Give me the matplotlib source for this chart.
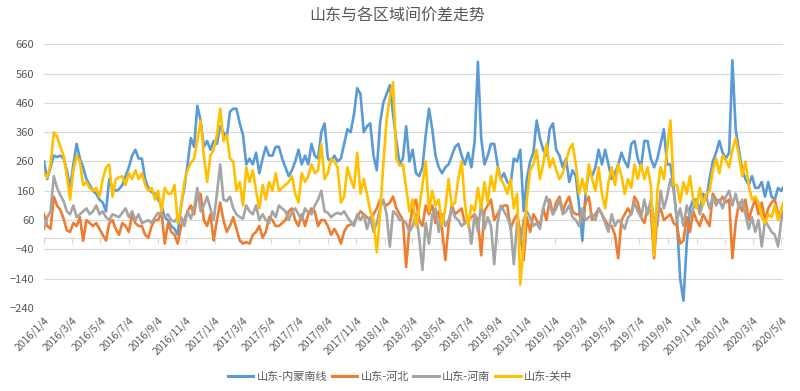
import matplotlib
matplotlib.use('Agg')
import matplotlib.pyplot as plt
import matplotlib.dates as mdates
import pandas as pd

plt.rcParams['font.family'] = ['Noto Sans CJK SC', 'DejaVu Sans']

# weekly readings, starting 2016/1/4
dates = pd.date_range('2016-01-04', periods=228, freq='7D')

neimeng = [260, 200, 240, 280, 275, 280, 270, 230, 170, 250, 320, 270, 240, 200, 180, 160, 150, 130, 120, 90,
           200, 170, 160, 165, 180, 210, 240, 280, 300, 270, 270, 200, 170, 155, 150, 130, 110,
           70, 60, 40, 30, 10, 110, 170, 250, 340, 310, 450, 400, 310, 330, 300, 330, 320, 380, 360, 340,
           430, 440, 440, 390, 350, 250, 270, 250, 290, 220, 270, 310, 280, 280, 310, 310, 270, 240, 210,
           230, 260, 300, 250, 280, 250, 320, 280, 270, 360,
           390, 270, 260, 280, 260, 270, 320, 370, 360, 420, 510, 490, 360, 380, 390, 280, 230, 390, 460,
           490, 520, 420, 330, 250, 270, 380, 260, 300, 220, 210, 240, 350, 440, 370, 280, 240, 220, 240,
           250, 280, 310, 320, 280, 250, 290, 240, 330, 600, 340,
           250, 280, 320, 320, 250, 200, 220, 190, 180, 270, 260, 300, 90, 200, 260, 290, 400, 340, 300,
           280, 370, 390, 300, 280, 240, 270, 190, 230, 210, 110, -10, 150, 230, 210, 240, 300, 250, 300,
           250, 200, 220, 250, 290, 260, 240, 320, 330,
           270, 240, 330, 330, 270, 240, 270, 320, 370, 250, 250, 170, 60, -140, -215, -20, 100, 130, 130,
           90, 150, 130, 200, 260, 290, 330, 290, 270, 290, 605, 370, 300, 230, 200, 180, 210, 170, 170,
           190, 140, 190, 140, 130, 170, 160, 180]

hebei = [80, 40, 30, 140, 110, 95, 65, 25, 20, 50, 40, 70, -10, 60, 50, 40, 50, 30, 10, -10,
         50, 60, 30, 10, 50, 40, 20, 80, 50, 40, 40, 10, 0, 40, 60, 60, 90,
         -20, 50, 20, 10, -20, 40, 60, 90, 110, 80, 150, 150, 60, 40, 80, -10, 60, 120, 60, 20,
         40, 70, 30, -10, -20, -15, -20, 10, 20, 40, 0, 20, 70, 60, 40, 40, 50, 60, 90,
         100, 60, 40, 80, 40, 80, 100, 90, 40, 60,
         60, 40, 10, 30, 10, -20, 20, 40, 45, 50, 70, 90, 80, 70, 60, 80, 100, 130, 120,
         110, 120, 140, 100, 80, 60, -100, 40, 100, 130, 60, 40, 110, 80, 110, 50, 90, 30, -76,
         40, 110, 80, 90, 100, 50, 60, 70, 80, 60, -60,
         90, 110, 130, 60, 80, 100, 110, 110, 30, 60, 80, 20, -76, 70, 20, 80, 60, 40, 100,
         60, 130, 80, 120, 140, 90, 120, 140, 90, 80, 80, 60, 120, 140, 60, 80, 100, 80, 60,
         40, 40, 10, -70, 60, 80, 100, 80, 140,
         120, 70, 50, 100, 90, -70, 80, 100, 60, 70, 80, 50, 40, -20, -10, 70, 20, 90, 60,
         40, 80, 60, 40, 150, 130, 120, 140, 120, 130, -70, 50, 120, 90, 130, 60, 100, 130, 80,
         120, 60, 100, 120, 130, 80, 70, 100]

henan = [30, 70, 90, 210, 170, 145, 125, 90, 80, 110, 70, 80, 90, 100, 80, 90, 110, 80, 90, 70,
         60, 80, 75, 70, 85, 100, 70, 90, 60, 80, 50, 55, 60, 50, 70, 85, 80,
         70, 80, 60, 55, 70, 70, 40, 90, 65, 100, 170, 90, 110, 140, 100, 60, 150, 250, 130, 125,
         140, 100, 80, 70, 65, 110, 90, 80, 110, 60, 80, 60, 50, 90, 70, 110, 100, 90, 60,
         90, 100, 80, 60, 100, 85, 80, 110, 130, 160,
         90, 85, 70, 80, 85, 80, 90, 70, 55, 40, 80, 60, 80, 30, 70, 20, 50, 100, 130,
         80, -30, 90, 80, 60, 60, 50, 20, 40, 80, 0, -110, 50, -20, 80, 100, 20, 80, 40,
         60, 100, 70, 60, 40, 50, 60, -20, 80, 20, 120,
         30, 70, 40, -90, 50, 110, 90, 70, 40, -90, 50, -20, 60, 90, 70, 40, 50, 30, 100,
         140, 110, 80, 100, 130, 80, 90, 110, 70, 60, 40, 100, 60, 70, 80, 60, 100, 80, 50,
         20, 80, 40, 60, 50, 30, 70, 80, 120,
         90, 70, 130, 80, 130, 60, 40, 160, 100, 140, 200, 160, 60, 100, 40, 110, 70, 100, 130,
         80, 120, 140, 100, 140, 110, 130, 100, 140, 160, 110, 150, 100, 130, 80, 30, 70, 20,
         60, -30, 60, 40, 20, 10, -30, 60, 90]

guanzhong = [220, 205, 250, 360, 345, 310, 280, 210, 130, 230, 280, 260, 180, 190, 170, 160, 170, 140, 200, 240,
             250, 140, 200, 205, 210, 180, 220, 200, 230, 200, 220, 180, 160, 170, 130, 160, 90,
             170, 150, 150, 180, 50, 100, 190, 230, 255, 270, 330, 400, 280, 190, 280, 300, 350, 440, 330,
             350, 270, 260, 160, 190, 110, 240, 190, 230, 160, 100, 180, 130, 190, 160, 220, 160, 170,
             180, 190, 210, 150, 120, 220, 190, 210, 250, 220, 230, 320,
             200, 220, 270, 260, 240, 120, 140, 240, 200, 170, 290, 150, 200, 150, 90, 60, -50, 80, 250,
             400, 480, 530, 270, 245, 250, 170, 90, 130, 40, 100, 180, 260, 90, 160, 110, 130, 40,
             100, 200, 110, 120, 200, 260, 120, 40, 110, 90, 170, 100,
             190, 120, 210, 160, 240, 200, 180, 150, 200, 100, 150, -160, -20, 130, 230, 250, 300, 200,
             250, 320, 240, 270, 230, 200, 220, 260, 300, 320, 250, 150, 200, 150, 250, 200, 160, 240,
             150, 100, 190, 240, 180, 250, 210, 150, 200, 170, 250,
             200, 250, 200, 240, 180, -60, 160, 240, 200, 300, 400, 180, 180, 120, 190, 150, 210, 130,
             100, 170, 110, 150, 160, 230, 270, 220, 280, 265, 240, 300, 340, 280, 210, 260, 180, 130,
             140, 120, 70, 50, 80, 70, 110, 60, 100, 130]

names = ['山东-内蒙南线', '山东-河北', '山东-河南', '山东-关中']
colors = ['#5B9BD5', '#ED7D31', '#A5A5A5', '#FFC000']
ymin, ymax = -240, 660

fig = plt.figure(figsize=(8, 3.91), dpi=100)
ax = fig.add_axes([0.055, 0.212, 0.924, 0.675])

for vals, name, c in zip([neimeng, hebei, henan, guanzhong], names, colors):
    ax.plot(dates, vals, color=c, lw=1.9, label=name, solid_joinstyle='round')

ax.set_ylim(ymin, ymax)
ax.set_yticks(range(ymin, ymax + 1, 100))
ax.set_xlim(pd.Timestamp('2016-01-04'), pd.Timestamp('2020-05-08'))

ticks = [pd.Timestamp(2016, 1, 4) + pd.DateOffset(months=2 * i) for i in range(27)]
ax.set_xticks(ticks)
ax.set_xticklabels([f'{d.year}/{d.month}/{d.day}' for d in ticks], rotation=45,
                   ha='right', va='top', rotation_mode='anchor', fontsize=7.5, color='#595959')
ax.tick_params(axis='x', length=0, pad=5)
ax.tick_params(axis='y', length=0, pad=7, labelsize=8, labelcolor='#595959')
ax.grid(axis='y', color='#D9D9D9', lw=0.8)
ax.set_axisbelow(True)
for s in ax.spines.values():
    s.set_visible(False)

# category axis line sits at zero
sec = ax.secondary_xaxis((0 - ymin) / (ymax - ymin))
sec.set_xticks(mdates.date2num(ticks))
sec.tick_params(axis='x', labelbottom=False, color='#D9D9D9', length=4, direction='out')
sec.spines['bottom'].set_color('#D9D9D9')
sec.set_zorder(0.5)

fig.text(0.497, 0.959, '山东与各区域间价差走势', ha='center', va='center',
         fontsize=11.5, color='#595959')
leg = fig.legend(loc='center', bbox_to_anchor=(0.5, 0.036), ncol=4, frameon=False, fontsize=8,
                 handlelength=2.3, handletextpad=0.3, columnspacing=0.4, labelcolor='#595959')
for line in leg.get_lines():
    line.set_linewidth(2.2)

fig.savefig('out.png', dpi=100)
